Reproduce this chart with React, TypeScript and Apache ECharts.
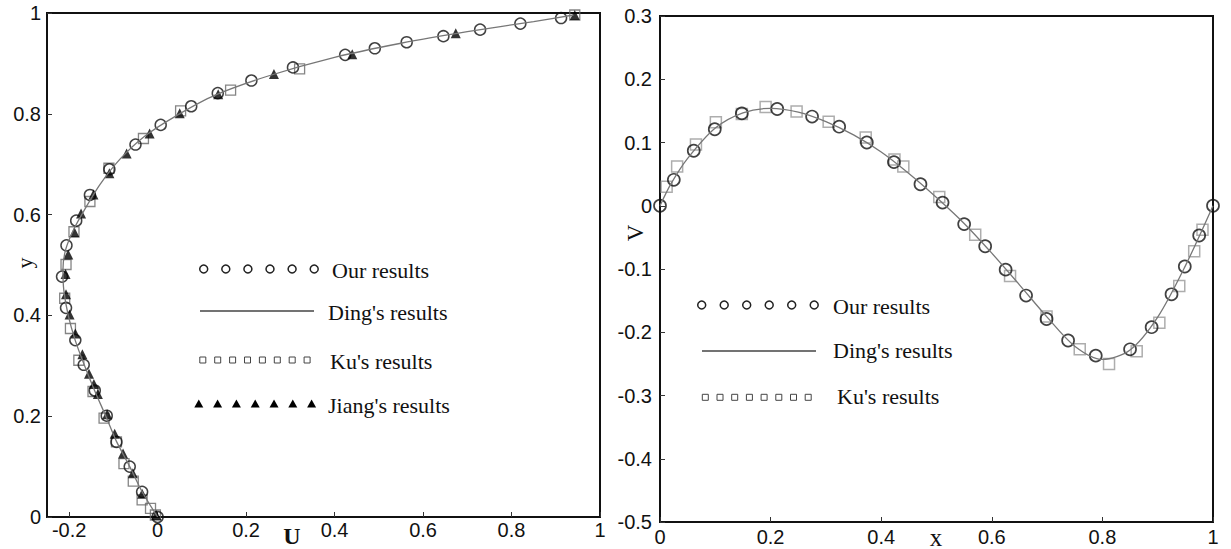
import React, { useEffect, useRef } from "react";
import * as echarts from "echarts";

// ---------- Left panel: U vs y ----------
const uTicks = [-0.2, 0, 0.2, 0.4, 0.6, 0.8, 1];

const ourU = [0, -0.035, -0.063, -0.093, -0.115, -0.142, -0.167, -0.186, -0.207, -0.216, -0.206, -0.184, -0.153, -0.109, -0.05, 0.007, 0.076, 0.136, 0.212, 0.306, 0.424, 0.491, 0.563, 0.646, 0.729, 0.82, 0.912];
const ourY = [0, 0.05, 0.1, 0.149, 0.201, 0.251, 0.302, 0.351, 0.415, 0.477, 0.539, 0.588, 0.639, 0.69, 0.739, 0.778, 0.815, 0.841, 0.866, 0.892, 0.917, 0.93, 0.942, 0.954, 0.967, 0.979, 0.99];

const dingU = [0, -0.035, -0.063, -0.093, -0.117, -0.142, -0.165, -0.186, -0.202, -0.212, -0.214, -0.208, -0.19, -0.165, -0.13, -0.085, -0.03, 0.04, 0.13, 0.25, 0.4, 0.55, 0.7, 0.85, 0.94];
const dingY = [0, 0.05, 0.1, 0.15, 0.2, 0.25, 0.3, 0.35, 0.4, 0.45, 0.49, 0.53, 0.57, 0.61, 0.66, 0.71, 0.755, 0.795, 0.837, 0.875, 0.912, 0.94, 0.963, 0.983, 0.996];

const kuU = [-0.005, -0.016, -0.035, -0.055, -0.076, -0.093, -0.121, -0.146, -0.178, -0.197, -0.21, -0.207, -0.189, -0.153, -0.11, -0.032, 0.052, 0.165, 0.321, 0.943];
const kuY = [0.004, 0.017, 0.034, 0.071, 0.106, 0.149, 0.196, 0.249, 0.311, 0.374, 0.434, 0.501, 0.566, 0.626, 0.692, 0.751, 0.806, 0.847, 0.889, 0.996];

const jiangU = [-0.003, -0.035, -0.056, -0.078, -0.097, -0.114, -0.135, -0.144, -0.155, -0.17, -0.186, -0.199, -0.207, -0.208, -0.202, -0.188, -0.173, -0.145, -0.109, -0.07, -0.018, 0.05, 0.137, 0.263, 0.44, 0.674, 0.943];
const jiangY = [0.004, 0.046, 0.087, 0.126, 0.165, 0.204, 0.244, 0.264, 0.284, 0.323, 0.364, 0.402, 0.442, 0.482, 0.521, 0.565, 0.602, 0.64, 0.682, 0.721, 0.761, 0.801, 0.839, 0.879, 0.918, 0.96, 0.996];

// ---------- Right panel: x vs V ----------
const ourX = [0, 0.025, 0.061, 0.099, 0.148, 0.212, 0.275, 0.324, 0.374, 0.423, 0.471, 0.511, 0.55, 0.588, 0.625, 0.662, 0.699, 0.738, 0.788, 0.85, 0.889, 0.925, 0.949, 0.975, 1.0];
const ourV = [0, 0.041, 0.087, 0.121, 0.146, 0.153, 0.141, 0.125, 0.1, 0.069, 0.034, 0.005, -0.029, -0.064, -0.101, -0.142, -0.179, -0.213, -0.237, -0.227, -0.192, -0.14, -0.096, -0.047, 0];

const kuX = [0.012, 0.031, 0.065, 0.101, 0.148, 0.191, 0.247, 0.305, 0.372, 0.424, 0.44, 0.505, 0.57, 0.633, 0.699, 0.759, 0.812, 0.862, 0.903, 0.939, 0.966, 0.981];
const kuV = [0.03, 0.062, 0.097, 0.132, 0.145, 0.156, 0.149, 0.133, 0.108, 0.073, 0.062, 0.014, -0.046, -0.111, -0.175, -0.227, -0.25, -0.23, -0.185, -0.127, -0.072, -0.038];

const dingX = [0, 0.02, 0.05, 0.1, 0.15, 0.2, 0.25, 0.3, 0.35, 0.4, 0.45, 0.5, 0.55, 0.6, 0.65, 0.7, 0.75, 0.8, 0.85, 0.9, 0.95, 1.0];
const dingV = [0, 0.035, 0.075, 0.123, 0.147, 0.154, 0.148, 0.133, 0.112, 0.085, 0.051, 0.013, -0.028, -0.075, -0.125, -0.176, -0.222, -0.243, -0.228, -0.176, -0.095, 0];

const legendLeft = ["Our results", "Ding's results", "Ku's results", "Jiang's results"];
const legendRight = ["Our results", "Ding's results", "Ku's results"];

const zip = (a: number[], b: number[]) => a.map((v, i) => [v, b[i]]);

const SANS = '"Liberation Sans", Arial, sans-serif';
const SERIF = '"Liberation Serif", "Times New Roman", serif';

const axisBase = (margin: number) => ({
  type: "value" as const,
  axisLine: { show: true, onZero: false, lineStyle: { color: "#111", width: 2 } },
  axisTick: { show: true, inside: true, length: 5, lineStyle: { color: "#333", width: 1 } },
  axisLabel: { color: "#111", fontSize: 20, fontFamily: SANS, margin },
  splitLine: { show: false },
});

function circles(n: number, x0: number, dx: number, y: number) {
  return Array.from({ length: n }, (_, i) => ({
    type: "circle",
    shape: { cx: x0 + i * dx, cy: y, r: 4 },
    style: { fill: "none", stroke: "#222", lineWidth: 1.5 },
  }));
}
function squares(n: number, x0: number, dx: number, y: number) {
  return Array.from({ length: n }, (_, i) => ({
    type: "rect",
    shape: { x: x0 + i * dx - 3, y: y - 3, width: 6, height: 6 },
    style: { fill: "none", stroke: "#444", lineWidth: 1 },
  }));
}
function triangles(n: number, x0: number, dx: number, y: number) {
  return Array.from({ length: n }, (_, i) => {
    const cx = x0 + i * dx;
    return {
      type: "polygon",
      shape: { points: [[cx, y - 4.5], [cx - 4.5, y + 3.5], [cx + 4.5, y + 3.5]] },
      style: { fill: "#000" },
    };
  });
}
function label(text: string, x: number, y: number) {
  return {
    type: "text",
    x,
    y,
    style: { text, fill: "#111", fontSize: 22, fontFamily: SERIF, align: "left", verticalAlign: "middle" },
  };
}

export default function App() {
  const ref = useRef<HTMLDivElement>(null);
  useEffect(() => {
    if (!ref.current) return;
    const chart = echarts.init(ref.current, null, { renderer: "svg" });
    const option: any = {
      animation: false,
      backgroundColor: "#fff",
      grid: [
        { left: 47, top: 13, width: 553, height: 504, show: true, borderColor: "#111", borderWidth: 2, backgroundColor: "transparent" },
        { left: 660, top: 16, width: 553, height: 506, show: true, borderColor: "#111", borderWidth: 2, backgroundColor: "transparent" },
      ],
      xAxis: [
        (() => {
          const a: any = axisBase(3);
          a.gridIndex = 0;
          a.min = -0.25;
          a.max = 1;
          a.axisLabel.customValues = uTicks;
          a.axisTick.customValues = uTicks;
          return a;
        })(),
        { ...axisBase(5), gridIndex: 1, min: 0, max: 1, interval: 0.2 },
      ],
      yAxis: [
        { ...axisBase(6), gridIndex: 0, min: 0, max: 1, interval: 0.2 },
        { ...axisBase(8), gridIndex: 1, min: -0.5, max: 0.3, interval: 0.1 },
      ],
      series: [
        {
          name: "Ding's results", type: "line", xAxisIndex: 0, yAxisIndex: 0,
          data: zip(dingU, dingY), smooth: 0.25, showSymbol: false,
          lineStyle: { color: "#777", width: 1.3 },
        },
        {
          name: "Ku's results", type: "scatter", xAxisIndex: 0, yAxisIndex: 0,
          data: zip(kuU, kuY), symbol: "rect", symbolSize: 10,
          itemStyle: { color: "rgba(0,0,0,0)", borderColor: "#666", borderWidth: 1.3 },
        },
        {
          name: "Our results", type: "scatter", xAxisIndex: 0, yAxisIndex: 0,
          data: zip(ourU, ourY), symbol: "circle", symbolSize: 11,
          itemStyle: { color: "rgba(0,0,0,0)", borderColor: "#111", borderWidth: 1.5 },
        },
        {
          name: "Jiang's results", type: "scatter", xAxisIndex: 0, yAxisIndex: 0,
          data: zip(jiangU, jiangY), symbol: "triangle", symbolSize: 10,
          itemStyle: { color: "#000" },
        },
        {
          name: "Ding's results R", type: "line", xAxisIndex: 1, yAxisIndex: 1,
          data: zip(dingX, dingV), smooth: 0.3, showSymbol: false,
          lineStyle: { color: "#777", width: 1.3 },
        },
        {
          name: "Ku's results R", type: "scatter", xAxisIndex: 1, yAxisIndex: 1,
          data: zip(kuX, kuV), symbol: "rect", symbolSize: 11,
          itemStyle: { color: "rgba(0,0,0,0)", borderColor: "#999", borderWidth: 1.5 },
        },
        {
          name: "Our results R", type: "scatter", xAxisIndex: 1, yAxisIndex: 1,
          data: zip(ourX, ourV), symbol: "circle", symbolSize: 12,
          itemStyle: { color: "rgba(0,0,0,0)", borderColor: "#111", borderWidth: 1.7 },
        },
      ],
      graphic: [
        // axis names
        { type: "text", x: 292, y: 536, style: { text: "U", fill: "#111", fontSize: 24, fontWeight: "bold", fontFamily: SERIF, align: "center", verticalAlign: "middle" } },
        { type: "text", x: 24, y: 263, rotation: Math.PI / 2, style: { text: "y", fill: "#111", fontSize: 22, fontFamily: SERIF, align: "center", verticalAlign: "middle" } },
        { type: "text", x: 635, y: 233, rotation: Math.PI / 2, style: { text: "V", fill: "#111", fontSize: 23, fontFamily: SERIF, align: "center", verticalAlign: "middle" } },
        { type: "text", x: 936, y: 537, style: { text: "x", fill: "#111", fontSize: 25, fontFamily: SERIF, align: "center", verticalAlign: "middle" } },
        // left legend
        ...circles(6, 203.7, 22.1, 269),
        { type: "line", shape: { x1: 200, y1: 311, x2: 314, y2: 311 }, style: { stroke: "#444", lineWidth: 1.5 } },
        ...squares(8, 202.8, 14.9, 360),
        ...triangles(7, 198.8, 18.8, 404),
        label(legendLeft[0], 332, 270),
        label(legendLeft[1], 328, 312),
        label(legendLeft[2], 330, 361),
        label(legendLeft[3], 328, 405),
        // right legend
        ...circles(6, 701.7, 22.5, 305),
        { type: "line", shape: { x1: 702, y1: 351, x2: 816, y2: 351 }, style: { stroke: "#444", lineWidth: 1.5 } },
        ...squares(8, 705.3, 14.7, 397.3),
        label(legendRight[0], 833, 306),
        label(legendRight[1], 833, 350),
        label(legendRight[2], 837, 396),
      ],
    };
    chart.setOption(option);
    return () => chart.dispose();
  }, []);
  return (
    <div
      ref={ref}
      style={{ position: "fixed", left: 0, top: 0, width: 1231, height: 549, background: "#fff" }}
    />
  );
}
